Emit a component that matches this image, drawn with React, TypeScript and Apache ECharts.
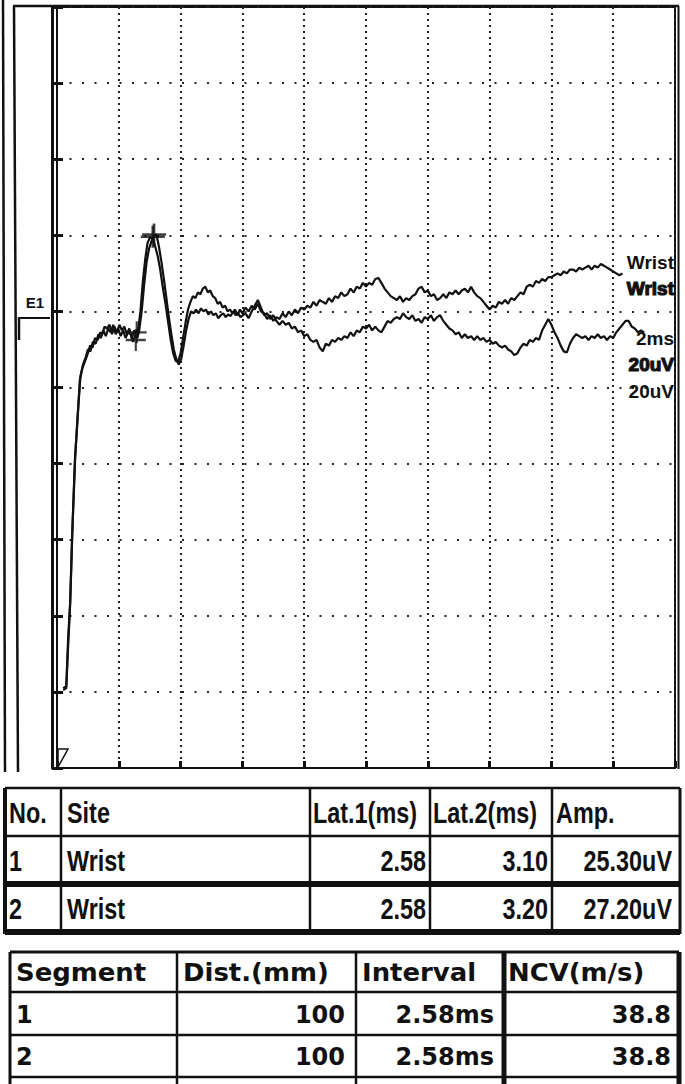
import React, { useEffect, useRef } from "react";
import * as echarts from "echarts";

// Axis scale: 2 ms/div horizontally, 20 uV/div vertically
const xMin = 0;
const xMax = 20;
const xStep = 2;
const yMin = -120;
const yMax = 80;
const yStep = 20;

// Trace 1 (upper tail) [ms, uV]
const waveA: [number, number][] = [
  [0.20, -99.5], [0.30, -99.0], [0.36, -88], [0.42, -78], [0.49, -59], [0.58, -39], [0.68, -26], [0.74, -18],
  [0.82, -15], [0.91, -13], [0.98, -11.5], [1.07, -9], [1.15, -9.5], [1.23, -7], [1.32, -7.5], [1.40, -5.5],
  [1.46, -6], [1.54, -4], [1.62, -4.5], [1.70, -3.5], [1.78, -6], [1.86, -4], [1.94, -5.5], [2.02, -3.5],
  [2.10, -5], [2.18, -4], [2.26, -6], [2.34, -4.5], [2.42, -7], [2.50, -5], [2.58, -6.5], [2.64, -4],
  [2.70, 0], [2.78, 8], [2.86, 14], [2.93, 18], [3.01, 19.5], [3.10, 19.3], [3.18, 17], [3.26, 14.5],
  [3.34, 11], [3.43, 6], [3.52, 1.5], [3.60, -3], [3.68, -7.5], [3.76, -11], [3.84, -13], [3.92, -13.2],
  [4.00, -11], [4.08, -7], [4.16, -3], [4.24, 0.5], [4.32, 2.5], [4.40, 4], [4.48, 3.5], [4.56, 5],
  [4.64, 4.5], [4.72, 6], [4.80, 6.5], [4.88, 5], [4.96, 5.5], [5.04, 4], [5.12, 3.5], [5.20, 2],
  [5.28, 2.5], [5.36, 1], [5.44, 1.5], [5.52, 0], [5.60, 0.5], [5.68, -0.5], [5.76, 0.5], [5.84, -1],
  [5.92, 0.5], [6.00, -0.5], [6.10, 1], [6.20, 0], [6.30, 1.5], [6.40, 0.5], [6.50, 2], [6.60, 0],
  [6.70, -0.5], [6.80, -2], [6.90, -1], [7.00, -2.5], [7.10, -1.5], [7.20, -2], [7.30, -0.5], [7.40, -1.5],
  [7.50, 0], [7.60, -1], [7.70, 0.5], [7.80, -0.5], [7.90, 1], [8.00, 0.5], [8.10, 1.5], [8.20, 1],
  [8.30, 2.5], [8.40, 1.5], [8.50, 3], [8.60, 2.5], [8.70, 2], [8.80, 3.5], [8.90, 2.5], [9.00, 4],
  [9.10, 3.5], [9.20, 5], [9.30, 4], [9.40, 4.5], [9.50, 6], [9.60, 5], [9.70, 6.5], [9.80, 6],
  [9.90, 7.5], [10.00, 6.5], [10.10, 7.5], [10.20, 7], [10.30, 8.5], [10.40, 8.8], [10.50, 7.5], [10.60, 6],
  [10.70, 5], [10.80, 4], [10.90, 3.5], [11.00, 3], [11.10, 4], [11.20, 2.5], [11.30, 3.5], [11.40, 3],
  [11.50, 4], [11.60, 4.5], [11.70, 6], [11.80, 6.5], [11.90, 5], [12.00, 5.5], [12.10, 4], [12.20, 4.5],
  [12.30, 3], [12.40, 3.5], [12.50, 4.5], [12.60, 3.5], [12.70, 5], [12.80, 4.5], [12.90, 5.5], [13.00, 4.5],
  [13.10, 5.5], [13.20, 6], [13.30, 5], [13.40, 6.5], [13.50, 5], [13.60, 4], [13.70, 3.5], [13.80, 2.5],
  [13.90, 1.5], [14.00, 0.5], [14.10, 1.5], [14.20, 1], [14.30, 2.5], [14.40, 2], [14.50, 3], [14.60, 2],
  [14.70, 3.5], [14.80, 3], [14.90, 4], [15.00, 5], [15.10, 4.5], [15.20, 6.5], [15.30, 7], [15.40, 6.5],
  [15.50, 8], [15.60, 7.5], [15.70, 8.5], [15.80, 8], [15.90, 9], [16.00, 9], [16.10, 9.5], [16.20, 10],
  [16.30, 9.5], [16.40, 10.5], [16.50, 10], [16.60, 11], [16.70, 11], [16.80, 10.5], [16.90, 11.5], [17.00, 11],
  [17.10, 11.5], [17.20, 12], [17.30, 11], [17.40, 12], [17.50, 11.5], [17.60, 12.5], [17.70, 12], [17.80, 11.5],
  [17.90, 11], [18.00, 10.5], [18.10, 10], [18.20, 9.5], [18.30, 10],
];

// Trace 2 (lower tail) [ms, uV]
const waveB: [number, number][] = [
  [0.20, -99], [0.30, -98.5], [0.36, -86], [0.43, -76], [0.50, -57], [0.59, -38], [0.69, -25], [0.76, -17],
  [0.84, -14], [0.93, -12], [1.00, -10], [1.08, -10.5], [1.16, -8], [1.25, -8.5], [1.34, -6], [1.42, -7],
  [1.50, -5], [1.58, -6.5], [1.66, -4.5], [1.74, -5.5], [1.82, -3.5], [1.90, -6], [1.98, -4.5], [2.06, -6.5],
  [2.14, -5], [2.22, -7], [2.30, -5.5], [2.38, -6], [2.46, -8], [2.54, -6], [2.60, -7], [2.66, -5],
  [2.74, 0], [2.82, 7], [2.90, 13], [2.98, 16.5], [3.06, 18.5], [3.14, 19.8], [3.22, 20.2], [3.30, 17],
  [3.38, 13], [3.46, 8.5], [3.54, 3.5], [3.62, -1.5], [3.70, -6], [3.78, -10], [3.86, -12.5], [3.94, -14],
  [4.02, -12.5], [4.10, -9], [4.18, -5], [4.26, -2], [4.34, 0], [4.42, -0.5], [4.50, 0.5], [4.58, -0.5],
  [4.66, 0.8], [4.74, 0], [4.82, 0.5], [4.90, -0.8], [4.98, 0], [5.06, -1], [5.14, -0.5], [5.22, -1.8],
  [5.30, -1], [5.38, -0.5], [5.46, -1.5], [5.54, -0.8], [5.62, -1.2], [5.70, 0], [5.78, -1], [5.86, -0.5],
  [5.94, -1.5], [6.02, -1], [6.10, -0.5], [6.20, -1.8], [6.30, 0], [6.40, 1.5], [6.50, 3], [6.60, 1],
  [6.70, -1], [6.80, -0.5], [6.90, -2], [7.00, -1], [7.10, -2.5], [7.20, -3.5], [7.30, -2.5], [7.40, -3.5],
  [7.50, -3], [7.60, -4.5], [7.70, -4], [7.80, -5.5], [7.90, -5], [8.00, -6.5], [8.10, -6], [8.20, -7.5],
  [8.30, -8], [8.40, -7.5], [8.50, -9.5], [8.60, -10.5], [8.70, -8.5], [8.80, -9], [8.90, -7.5], [9.00, -8],
  [9.10, -7], [9.20, -7.5], [9.30, -6.5], [9.40, -7], [9.50, -5.5], [9.60, -6.5], [9.70, -5], [9.80, -5.5],
  [9.90, -4], [10.00, -4.5], [10.10, -3.5], [10.20, -5], [10.30, -4], [10.40, -5], [10.50, -5.5], [10.60, -4],
  [10.70, -2.5], [10.80, -3], [10.90, -2], [11.00, -1.5], [11.10, -2], [11.20, -0.5], [11.30, -1.5], [11.40, -2],
  [11.50, -1], [11.60, -2.5], [11.70, -2], [11.80, -3], [11.90, -1.5], [12.00, -2], [12.10, -1], [12.20, -2.5],
  [12.30, -1.5], [12.40, -1], [12.50, -2.5], [12.60, -3.5], [12.70, -4.5], [12.80, -5], [12.90, -6], [13.00, -5.5],
  [13.10, -7], [13.20, -6], [13.30, -7], [13.40, -6.5], [13.50, -7.5], [13.60, -6.5], [13.70, -7.5], [13.80, -7],
  [13.90, -8], [14.00, -7.5], [14.10, -8.5], [14.20, -8], [14.30, -9], [14.40, -9.5], [14.50, -9], [14.60, -10],
  [14.70, -10.5], [14.80, -11.5], [14.90, -11], [15.00, -9.5], [15.10, -8.5], [15.20, -9], [15.30, -7.5], [15.40, -8],
  [15.50, -7], [15.60, -7.5], [15.70, -5], [15.80, -3.5], [15.90, -2], [16.00, -3.5], [16.10, -5.5], [16.20, -7],
  [16.30, -9], [16.40, -10.5], [16.50, -10.8], [16.60, -8.5], [16.70, -7], [16.80, -6], [16.90, -6.5], [17.00, -7],
  [17.10, -6.5], [17.20, -7.5], [17.30, -6.5], [17.40, -7], [17.50, -6], [17.60, -7], [17.70, -6.5], [17.80, -7.5],
  [17.90, -6.5], [18.00, -7], [18.10, -5.5], [18.20, -4.5], [18.30, -3.5], [18.40, -2.5], [18.50, -2.5], [18.60, -4],
  [18.70, -4.5], [18.80, -5.5], [18.90, -5], [19.00, -5.5],
];

// Cursor markers: onset (Lat.1) and peak (Lat.2)
const onsetMarks: [number, number][] = [[2.55, -7.5], [2.58, -5.5]];
const peakMarks: [number, number][] = [[3.10, 19.6], [3.14, 20.2]];

// Trace labels on the right
const traceLabels = ["Wrist", "Wrist", "2ms", "20uV", "20uV"];

// Result tables
const table1Header = ["No.", "Site", "Lat.1(ms)", "Lat.2(ms)", "Amp."];
const table1Rows = [
  ["1", "Wrist", "2.58", "3.10", "25.30uV"],
  ["2", "Wrist", "2.58", "3.20", "27.20uV"],
];
const table2Header = ["Segment", "Dist.(mm)", "Interval", "NCV(m/s)"];
const table2Rows = [
  ["1", "100", "2.58ms", "38.8"],
  ["2", "100", "2.58ms", "38.8"],
];

const INK = "#111";
const plusPath = "path://M-1.2,-11H1.2V11H-1.2Z M-11,-1.2H11V1.2H-11Z";

function line(x1: number, y1: number, x2: number, y2: number, w: number) {
  return { type: "line", shape: { x1, y1, x2, y2 }, style: { stroke: INK, lineWidth: w }, silent: true };
}

function buildTable(
  cols: number[], rows: number[], header: string[], body: string[][],
  font: { family: string; size: number; scaleHead: number; scaleBody: number },
  hLines: number[], vLines: number[], vBottom: number,
  leftCols: number, padL: number[], padR: number[]
) {
  const els: any[] = [];
  rows.forEach((y, i) => els.push(line(cols[0], y, cols[cols.length - 1], y, hLines[i])));
  cols.forEach((x, i) => els.push(line(x, rows[0], x, vBottom, vLines[i])));
  const all = [header, ...body];
  all.forEach((r, ri) => {
    const cy = (rows[ri] + rows[ri + 1]) / 2 + 1;
    r.forEach((t, ci) => {
      const right = ri > 0 && ci >= leftCols;
      els.push({
        type: "text",
        x: right ? cols[ci + 1] - padR[ci] : cols[ci] + padL[ci],
        y: cy,
        scaleX: ri === 0 ? font.scaleHead : font.scaleBody,
        style: {
          text: t, fill: INK, fontFamily: font.family, fontSize: font.size, fontWeight: "bold",
          align: right ? "right" : "left", verticalAlign: "middle",
        },
        silent: true,
      });
    });
  });
  return els;
}

export default function App() {
  const ref = useRef<HTMLDivElement>(null);
  useEffect(() => {
    document.body.style.margin = "0";
    const chart = echarts.init(ref.current!, undefined, { renderer: "svg" });
    const labelY = [262, 288, 338, 364, 391];
    const labelEls = traceLabels.map((t, i) => ({
      type: "text",
      x: 674,
      y: labelY[i],
      style: {
        text: t, fill: INK, fontFamily: "Liberation Sans, Arial, sans-serif", fontSize: 19, fontWeight: "bold",
        align: "right", verticalAlign: "middle",
        stroke: i === 1 || i === 3 ? INK : undefined, lineWidth: i === 1 || i === 3 ? 1.2 : 0,
      },
      z: 10,
      silent: true,
    }));
    const t1 = buildTable(
      [5, 61, 310, 430, 552, 680], [788, 836, 884, 932], table1Header, table1Rows,
      { family: "Liberation Sans, Arial, sans-serif", size: 30, scaleHead: 0.78, scaleBody: 0.78 },
      [2.5, 2.5, 6, 6], [4, 2.5, 2.5, 2.5, 2.5, 3], 934, 2,
      [4, 6, 3, 3, 4], [0, 0, 4, 4, 8]
    );
    const t2 = buildTable(
      [10, 177, 356, 504, 679], [952, 992, 1035, 1077], table2Header, table2Rows,
      { family: "DejaVu Sans, Verdana, sans-serif", size: 24, scaleHead: 1.08, scaleBody: 1 },
      [3, 2.5, 2.5, 2.5], [3, 2.5, 2.5, 5, 5], 1084, 1,
      [6, 6, 6, 4], [0, 11, 10, 8]
    );
    chart.setOption({
      animation: false,
      backgroundColor: "#ffffff",
      grid: { left: 57, top: 7, width: 618, height: 761, show: true, borderColor: INK, borderWidth: 2 },
      xAxis: {
        type: "value", min: xMin, max: xMax, interval: xStep,
        axisLine: { show: true, onZero: false, lineStyle: { color: INK, width: 2 } },
        axisTick: { show: true, inside: true, length: 7, lineStyle: { color: INK, width: 3 } },
        axisLabel: { show: false },
        splitLine: { show: true, lineStyle: { color: "#222", width: 2, type: [2, 4] } },
      },
      yAxis: [
        {
          type: "value", min: yMin, max: yMax, interval: yStep, position: "left",
          axisLine: { show: true, onZero: false, lineStyle: { color: INK, width: 2 } },
          axisTick: { show: true, inside: true, length: 6, lineStyle: { color: INK, width: 3 } },
          axisLabel: { show: false },
          splitLine: { show: true, lineStyle: { color: "#222", width: 2, type: [2, 10.5] } },
        },
        {
          type: "value", min: yMin, max: yMax, interval: yStep, position: "left", offset: 5,
          axisLine: { show: true, onZero: false, lineStyle: { color: INK, width: 3 } },
          axisTick: { show: true, inside: true, length: 5, lineStyle: { color: INK, width: 3 } },
          axisLabel: { show: false },
          splitLine: { show: false },
        },
      ],
      series: [
        {
          type: "line", data: waveA, showSymbol: false, symbol: "none", z: 3,
          lineStyle: { color: INK, width: 2.2 }, silent: true,
        },
        {
          type: "line", data: waveB, showSymbol: false, symbol: "none", z: 3,
          lineStyle: { color: INK, width: 2.2 }, silent: true,
        },
        {
          type: "scatter", data: onsetMarks, symbol: plusPath, symbolSize: [20, 22], z: 4,
          itemStyle: { color: INK }, silent: true,
        },
        {
          type: "scatter", data: peakMarks, symbol: plusPath, symbolSize: [24, 22], z: 4,
          itemStyle: { color: INK }, silent: true,
        },
      ],
      graphic: [
        line(13, 6, 679, 6, 2.5),
        line(678.5, 6, 678.5, 769, 2),
        line(3, 0, 5, 772, 2.5),
        line(14, 6, 18, 772, 2.5),
        line(18, 318, 50, 318, 2),
        line(19, 317, 19, 340, 2.5),
        {
          type: "text", x: 35, y: 302,
          style: { text: "E1", fill: INK, fontFamily: "Liberation Sans, Arial, sans-serif", fontSize: 15, fontWeight: "bold", align: "center", verticalAlign: "middle" },
          silent: true,
        },
        {
          type: "polygon", shape: { points: [[58, 749], [68, 749], [58, 767]] },
          style: { fill: "none", stroke: INK, lineWidth: 1.5 }, silent: true,
        },
        ...labelEls,
        ...t1,
        ...t2,
      ],
    });
    return () => chart.dispose();
  }, []);
  return <div ref={ref} style={{ width: 685, height: 1084 }} />;
}
